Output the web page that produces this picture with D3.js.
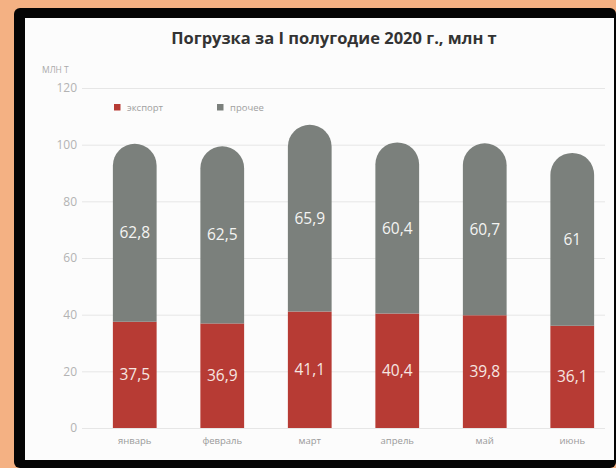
<!DOCTYPE html>
<html>
<head>
<meta charset="utf-8">
<script src="https://cdn.jsdelivr.net/npm/d3@7/dist/d3.min.js"></script>
<style>
  html, body { margin: 0; padding: 0; background: #F4B183; }
  svg { display: block; }
</style>
</head>
<body>
<svg id="chart" width="616" height="468"></svg>
<script>
// Monthly loading, first half of 2020 (million tonnes)
const months = ["январь", "февраль", "март", "апрель", "май", "июнь"];
const exportValues = [37.5, 36.9, 41.1, 40.4, 39.8, 36.1];
const otherValues = [62.8, 62.5, 65.9, 60.4, 60.7, 61];
const otherLabels = ["62,8", "62,5", "65,9", "60,4", "60,7", "61"];
const exportLabels = ["37,5", "36,9", "41,1", "40,4", "39,8", "36,1"];
const yTicks = [0, 20, 40, 60, 80, 100, 120];
const seriesNames = ["экспорт", "прочее"];

const title = "Погрузка за I полугодие 2020 г., млн т";
const unit = "млн т";

const colors = { export: "#B73B34", other: "#7B807C" };
const font = "'Open Sans', 'Noto Sans', sans-serif";

const svg = d3.select("#chart");
const W = 616, H = 468;

// Frame: peach background, black border, white panel
svg.append("rect").attr("width", W).attr("height", H).attr("fill", "#F4B183");
svg.append("rect").attr("x", 14).attr("y", 8).attr("width", W - 14).attr("height", H - 8)
  .attr("rx", 6).attr("fill", "#050505");
svg.append("rect").attr("x", 25).attr("y", 18).attr("width", W - 25 - 2).attr("height", 460 - 18)
  .attr("fill", "#fcfcfc");

// Scales
const x = d3.scaleBand().domain(months).range([91, 616]).paddingInner(0.5).paddingOuter(0.25);
const y = d3.scaleLinear().domain([0, 120]).range([428, 88]);

// Title
svg.append("text")
  .attr("x", 334).attr("y", 44)
  .attr("text-anchor", "middle")
  .attr("font-family", font).attr("font-weight", 700).attr("font-size", 16.5)
  .attr("fill", "#333").text(title);

// Unit label
svg.append("text")
  .attr("x", 42).attr("y", 73)
  .attr("font-family", font).attr("font-size", 8.5)
  .attr("fill", "#aaa").text(unit.toUpperCase());

// Y axis: grid lines and labels
const yAxis = d3.axisLeft(y).tickValues(yTicks).tickSize(-(605 - 82)).tickPadding(5)
  .tickFormat(d3.format("d"));
const gy = svg.append("g").attr("transform", "translate(82,0)").call(yAxis);
gy.select(".domain").remove();
gy.selectAll(".tick line").attr("stroke", "#e6e6e6").attr("stroke-width", 1);
gy.selectAll(".tick text")
  .attr("font-family", font).attr("font-size", 12)
  .attr("fill", "#b3b3b3");

// X axis labels
const xAxis = d3.axisBottom(x).tickSize(0).tickPadding(9);
const gx = svg.append("g").attr("transform", `translate(0,${y(0)})`).call(xAxis);
gx.select(".domain").remove();
gx.selectAll(".tick text")
  .attr("font-family", font).attr("font-size", 9.5)
  .attr("fill", "#9a9a9a");

// Stacked bars: export at the bottom, other on top with a rounded cap
const bw = x.bandwidth();
const r = bw / 2;
const bars = svg.append("g");

months.forEach((m, i) => {
  const x0 = x(m);
  const e = exportValues[i];
  const total = e + otherValues[i];
  const yTop = y(total), yMid = y(e), yBase = y(0);

  bars.append("rect")
    .attr("x", x0).attr("y", yMid)
    .attr("width", bw).attr("height", yBase - yMid)
    .attr("fill", colors.export);

  const p = d3.path();
  p.moveTo(x0, yMid);
  p.lineTo(x0, yTop + r);
  p.arc(x0 + r, yTop + r, r, Math.PI, 0);
  p.lineTo(x0 + bw, yMid);
  p.closePath();
  bars.append("path").attr("d", p.toString()).attr("fill", colors.other);

  bars.append("text")
    .attr("x", x0 + bw / 2).attr("y", (yTop + yMid) / 2)
    .attr("dy", "0.36em").attr("text-anchor", "middle")
    .attr("font-family", font).attr("font-weight", 500).attr("font-size", 15.5)
    .attr("fill", "#f4f4f2").text(otherLabels[i]);

  bars.append("text")
    .attr("x", x0 + bw / 2).attr("y", (yMid + yBase) / 2)
    .attr("dy", "0.36em").attr("text-anchor", "middle")
    .attr("font-family", font).attr("font-weight", 500).attr("font-size", 15.5)
    .attr("fill", "#f6e6e1").text(exportLabels[i]);
});

// Legend
const legend = svg.append("g").attr("transform", "translate(114,104)");
const legendX = [0, 103];
seriesNames.forEach((name, i) => {
  const g = legend.append("g").attr("transform", `translate(${legendX[i]},0)`);
  g.append("rect").attr("width", 6.5).attr("height", 6.5)
    .attr("fill", i === 0 ? colors.export : colors.other);
  g.append("text").attr("x", 13).attr("y", 3.3).attr("dy", "0.35em")
    .attr("font-family", font).attr("font-size", 9.5)
    .attr("fill", "#a0a0a0").text(name);
});
</script>
</body>
</html>
